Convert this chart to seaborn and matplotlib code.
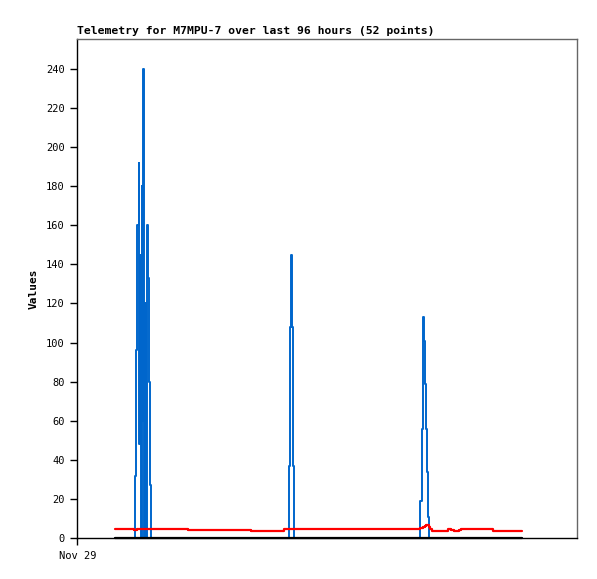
import pandas as pd
import matplotlib
matplotlib.use("Agg")
import matplotlib.pyplot as plt
import seaborn as sns

# hours since Nov 29 00:00 for each telemetry sample
hours = [7.24, 10.79,
         11.14, 11.33, 11.52, 11.75, 11.94, 12.10, 12.21, 12.33, 12.48, 12.61,
         12.77, 12.92, 13.08, 13.23, 13.38, 13.57, 13.77, 13.96, 14.15,
         21.31, 33.35, 39.78,
         40.65, 40.93, 41.09, 41.22, 41.38, 41.61,
         65.89, 66.09, 66.28, 66.43, 66.57, 66.76, 66.95, 67.14, 67.34, 67.53,
         67.81, 68.10,
         71.08, 71.37, 71.75, 72.23, 73.29, 73.67, 79.81, 85.38]

blue_vals = [0, 0,
             32, 96, 160, 192, 48, 145, 0, 180, 60, 240,
             0, 40, 120, 0, 160, 133, 80, 27, 0,
             0, 0, 0,
             37, 108, 145, 108, 37, 0,
             19, 56, 94, 113, 101, 79, 56, 34, 11, 0,
             0, 0,
             0, 0, 0, 0, 0, 0, 0, 0]

red_vals = [4.8, 4.2,
            4.2, 4.2, 4.8, 4.8, 4.8, 4.8, 4.8, 4.8, 4.8, 4.8,
            4.8, 4.8, 4.8, 4.8, 4.8, 4.8, 4.8, 4.8, 4.8,
            4.3, 3.9, 4.9,
            4.9, 4.9, 4.9, 4.9, 4.9, 4.9,
            5.2, 5.4, 5.6, 5.8, 6.0, 6.3, 6.6, 6.8, 7.0, 6.0,
            5.0, 3.9,
            4.5, 4.9, 4.3, 3.9, 4.3, 4.9, 3.9, 3.9]

black_vals = [0] * len(hours)

y_ticks = list(range(0, 241, 20))
x_tick_hours = [0]
x_tick_labels = ["Nov 29"]

df = pd.DataFrame({"hours": hours, "blue": blue_vals,
                   "red": red_vals, "black": black_vals})

sns.set_style("white")
plt.rcParams["font.family"] = ["DejaVu Sans Mono", "DejaVu Sans"]
plt.rcParams["text.color"] = "black"
plt.rcParams["xtick.color"] = "black"
plt.rcParams["ytick.color"] = "black"
plt.rcParams["axes.labelcolor"] = "black"

fig = plt.figure(figsize=(5.97, 5.79), dpi=100)
ax = fig.add_axes([0.1295, 0.0703, 0.8375, 0.8618])

sns.lineplot(data=df, x="hours", y="blue", color="#0066CC", lw=1.4,
             drawstyle="steps-post", ax=ax)
sns.lineplot(data=df, x="hours", y="red", color="#FF0000", lw=1.6,
             drawstyle="steps-post", ax=ax)
sns.lineplot(data=df, x="hours", y="black", color="black", lw=1.6,
             drawstyle="steps-post", ax=ax, clip_on=False)

ax.set_xlim(0, 96)
ax.set_ylim(0, 255)
ax.set_yticks(y_ticks)
ax.set_yticklabels([str(v) for v in y_ticks], fontsize=7.5)
ax.set_xticks(x_tick_hours)
ax.set_xticklabels(x_tick_labels, fontsize=7.5)
ax.tick_params(axis="both", direction="out", length=5, width=1,
               color="black", labelcolor="black", pad=4,
               left=True, bottom=True)

ax.set_xlabel("")
ax.set_ylabel("Values", fontsize=8, fontweight="bold", labelpad=5,
              color="black")
ax.set_title("Telemetry for M7MPU-7 over last 96 hours (52 points)",
             loc="left", fontsize=8.2, fontweight="bold", pad=4,
             color="black")

for side in ["left", "bottom"]:
    ax.spines[side].set_color("black")
    ax.spines[side].set_linewidth(1)
for side in ["top", "right"]:
    ax.spines[side].set_color("#666666")
    ax.spines[side].set_linewidth(1)

fig.savefig("out.png", dpi=100)
